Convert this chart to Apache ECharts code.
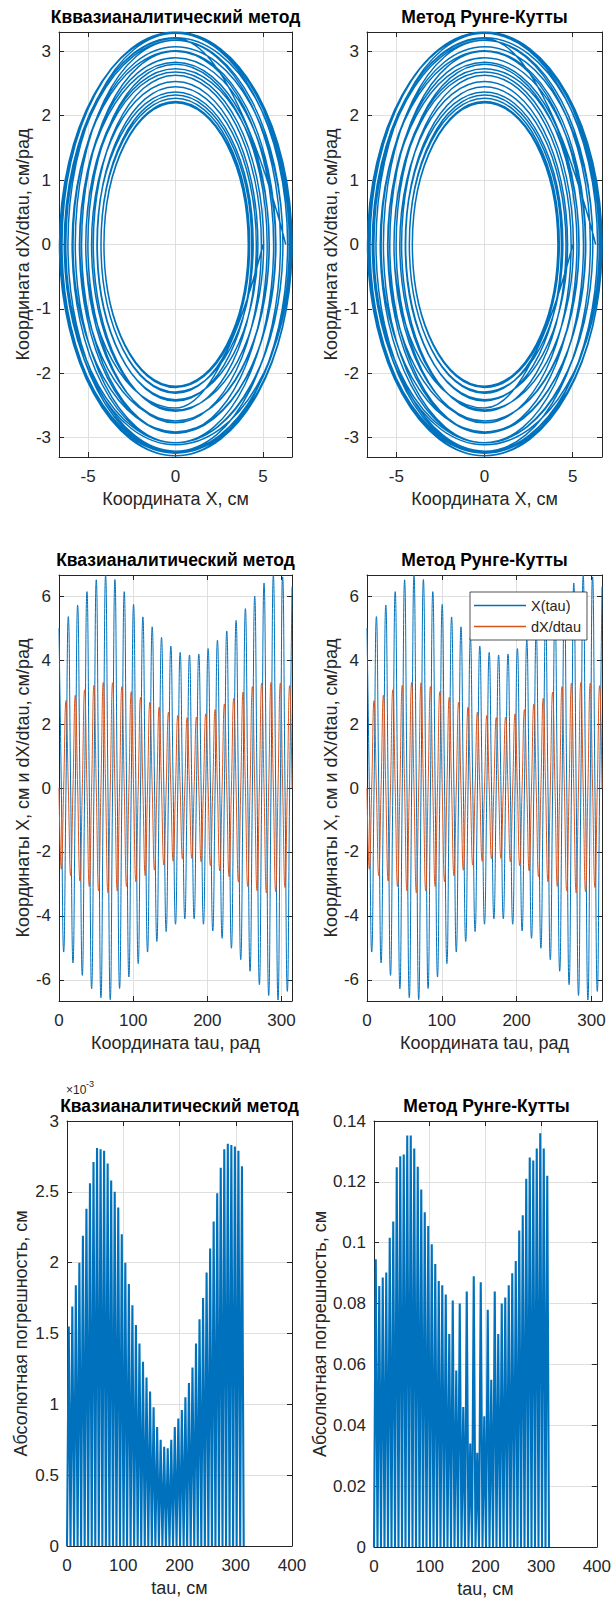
<!DOCTYPE html>
<html>
<head>
<meta charset="utf-8">
<script src="https://cdn.jsdelivr.net/npm/echarts@6/dist/echarts.min.js"></script>
<style>
  html, body { margin: 0; padding: 0; background: #fff; }
  #chart { width: 614px; height: 1602px; }
</style>
</head>
<body>
<div id="chart"></div>
<script>
// ---------------------------------------------------------------------------
// Oscillator solution, tau = 0 .. 100*pi (25 periods of 4*pi).
// The solution is stored as its turning points: consecutive table entries are
// a quarter period apart in tau.
// ---------------------------------------------------------------------------
const QUARTER_PERIOD = 3.14159;

// X(tau) maxima, at tau = 4*pi*k (k = 0..25), cm
const xPeaks = [5.00, 5.36, 5.72, 6.14, 6.51, 6.66, 6.52, 6.14, 5.74, 5.35,
                5.04, 4.71, 4.44, 4.24, 4.16, 4.19, 4.36, 4.62, 4.91, 5.24,
                5.61, 6.00, 6.41, 6.66, 6.60, 6.30];
// X(tau) minima, half a period after each maximum, cm
const xTroughs = [-5.13, -5.47, -5.86, -6.28, -6.56, -6.62, -6.27, -5.91, -5.49, -5.13,
                  -4.80, -4.49, -4.26, -4.09, -4.09, -4.26, -4.47, -4.70, -5.01, -5.37,
                  -5.73, -6.15, -6.49, -6.63, -6.36];
// dX/dtau minima, a quarter period after each X maximum, cm/rad
const dxTroughs = [-2.54, -2.74, -2.91, -3.08, -3.22, -3.28, -3.22, -3.08, -2.93, -2.74,
                   -2.57, -2.41, -2.29, -2.22, -2.20, -2.31, -2.43, -2.59, -2.77, -2.93,
                   -3.08, -3.21, -3.28, -3.24, -3.11];
// dX/dtau maxima, three quarters of a period after each X maximum, cm/rad
const dxPeaks = [2.73, 2.90, 3.07, 3.21, 3.30, 3.29, 3.17, 3.01, 2.83, 2.68,
                 2.53, 2.37, 2.27, 2.20, 2.22, 2.32, 2.45, 2.63, 2.80, 3.00,
                 3.17, 3.28, 3.30, 3.28, 3.20];

// Absolute error of the quasi-analytic solution, one hump per half period (x 1e-3 cm)
const quasiErrPeaks = [1.55, 1.69, 1.84, 2.00, 2.19, 2.38, 2.56, 2.71, 2.81, 2.80,
                       2.79, 2.70, 2.58, 2.50, 2.39, 2.20, 2.00, 1.85, 1.70, 1.56,
                       1.43, 1.30, 1.19, 1.09, 0.98, 0.84, 0.75, 0.70, 0.69, 0.75,
                       0.84, 0.90, 0.96, 1.05, 1.15, 1.26, 1.43, 1.60, 1.75, 1.93,
                       2.10, 2.29, 2.49, 2.67, 2.80, 2.84, 2.83, 2.82, 2.79, 2.68];
// Absolute error of the Runge-Kutta solution, cm: even and odd humps
const rkErrEven = [0.0946, 0.0886, 0.1016, 0.1248, 0.1290, 0.1352, 0.1250, 0.1100, 0.0995, 0.0874,
                   0.0830, 0.0810, 0.0800, 0.0840, 0.0890, 0.0870, 0.0780, 0.0840, 0.0800, 0.0860,
                   0.0940, 0.1090, 0.1280, 0.1310, 0.1310];
const rkErrOdd = [0.0858, 0.0902, 0.1070, 0.1284, 0.1352, 0.1310, 0.1175, 0.1055, 0.0930, 0.0860,
                  0.0700, 0.0580, 0.0460, 0.0340, 0.0310, 0.0430, 0.0550, 0.0700, 0.0820, 0.0900,
                  0.1040, 0.1210, 0.1270, 0.1360, 0.1220];

// Tick labels
const phaseXTicks = [-5, 0, 5];
const phaseYTicks = [-3, -2, -1, 0, 1, 2, 3];
const tauTicks = [0, 100, 200, 300];
const timeYTicks = [-6, -4, -2, 0, 2, 4, 6];
const errTauTicks = [0, 100, 200, 300, 400];
const quasiErrTicks = [0, 0.5, 1, 1.5, 2, 2.5, 3];
const rkErrTicks = [0, 0.02, 0.04, 0.06, 0.08, 0.1, 0.12, 0.14];

// ---------------------------------------------------------------------------
// Build the sampled curves from the turning-point tables
// ---------------------------------------------------------------------------
function buildSolution() {
  const xs = [], dxs = [], phase = [];
  for (let k = 0; k < xPeaks.length; k++) {
    const pts = [[4 * k, xPeaks[k], 0]];
    if (k < xTroughs.length) {
      pts.push([4 * k + 1, 0, dxTroughs[k]]);
      pts.push([4 * k + 2, xTroughs[k], 0]);
      pts.push([4 * k + 3, 0, dxPeaks[k]]);
    }
    pts.forEach(([q, x, dx]) => {
      const tau = q * QUARTER_PERIOD;
      xs.push([tau, x]);
      dxs.push([tau, dx]);
      phase.push([x, dx]);
    });
  }
  return { xs, dxs, phase };
}

function buildError(humps) {
  const out = [[0, 0]];
  humps.forEach((h, j) => {
    out.push([(2 * j + 1) * QUARTER_PERIOD, h]);
    out.push([(2 * j + 2) * QUARTER_PERIOD, 0]);
  });
  return out;
}

const sol = buildSolution();
const rkHumps = [];
rkErrEven.forEach((v, i) => { rkHumps.push(v); if (i < rkErrOdd.length) rkHumps.push(rkErrOdd[i]); });
const quasiErr = buildError(quasiErrPeaks);
const rkErr = buildError(rkHumps.slice(0, 50));

// ---------------------------------------------------------------------------
// Styling and layout
// ---------------------------------------------------------------------------
const FONT = '"Liberation Sans", Arial, Helvetica, sans-serif';
const INK = '#262626';
const GRIDLINE = '#dfdfdf';
const BLUE = '#0072BD';
const ORANGE = '#D95319';

const panels = [
  { grid: { left: 59, top: 32, width: 233, height: 425 }, title: 'Кввазианалитический метод', titleY: 8,
    xName: 'Координата X, см', yName: 'Координата dX/dtau, см/рад', yGap: 27,
    xRange: [-6.66, 6.66], yRange: [-3.3, 3.3], xTicks: phaseXTicks, yTicks: phaseYTicks },
  { grid: { left: 367, top: 32, width: 235, height: 425 }, title: 'Метод Рунге-Кутты', titleY: 8,
    xName: 'Координата X, см', yName: 'Координата dX/dtau, см/рад', yGap: 26,
    xRange: [-6.66, 6.66], yRange: [-3.3, 3.3], xTicks: phaseXTicks, yTicks: phaseYTicks },
  { grid: { left: 59, top: 575, width: 233, height: 426 }, title: 'Квазианалитический метод', titleY: 551,
    xName: 'Координата tau, рад', yName: 'Координаты X, см и dX/dtau, см/рад', yGap: 27,
    xRange: [0, 314.16], yRange: [-6.66, 6.66], xTicks: tauTicks, yTicks: timeYTicks },
  { grid: { left: 367, top: 575, width: 235, height: 426 }, title: 'Метод Рунге-Кутты', titleY: 551,
    xName: 'Координата tau, рад', yName: 'Координаты X, см и dX/dtau, см/рад', yGap: 26,
    xRange: [0, 314.16], yRange: [-6.66, 6.66], xTicks: tauTicks, yTicks: timeYTicks },
  { grid: { left: 67, top: 1121, width: 225, height: 425 }, title: 'Квазианалитический метод', titleY: 1097,
    xName: 'tau, см', yName: 'Абсолютная погрешность, см', yGap: 37,
    xRange: [0, 400], yRange: [0, 3], xTicks: errTauTicks, yTicks: quasiErrTicks },
  { grid: { left: 374, top: 1121, width: 225, height: 426 }, title: 'Метод Рунге-Кутты', titleY: 1097,
    xName: 'tau, см', yName: 'Абсолютная погрешность, см', yGap: 45,
    xRange: [0, 400], yRange: [0, 0.14], xTicks: errTauTicks, yTicks: rkErrTicks }
];

const nameStyle = { color: INK, fontSize: 18, fontFamily: FONT };
const labelStyle = { color: INK, fontSize: 17, fontFamily: FONT };

const grids = [], xAxes = [], yAxes = [], graphics = [];
panels.forEach((p, i) => {
  grids.push(Object.assign({ containLabel: false }, p.grid));
  const baseLine = { show: true, onZero: false, lineStyle: { color: INK, width: 1 } };
  // bottom / left axes with labels and grid lines
  xAxes.push({
    type: 'value', gridIndex: i, position: 'bottom', min: p.xRange[0], max: p.xRange[1],
    axisLine: baseLine,
    axisTick: { show: true, inside: true, length: 5, customValues: p.xTicks, lineStyle: { color: INK } },
    axisLabel: Object.assign({ show: true, margin: 11, customValues: p.xTicks, formatter: v => String(v) }, labelStyle),
    splitLine: { show: true, lineStyle: { color: GRIDLINE, width: 1 } },
    name: p.xName, nameLocation: 'middle', nameGap: 33, nameTextStyle: nameStyle
  });
  yAxes.push({
    type: 'value', gridIndex: i, position: 'left', min: p.yRange[0], max: p.yRange[1],
    axisLine: baseLine,
    axisTick: { show: true, inside: true, length: 5, customValues: p.yTicks, lineStyle: { color: INK } },
    axisLabel: Object.assign({ show: true, margin: 8, customValues: p.yTicks, formatter: v => String(v) }, labelStyle),
    splitLine: { show: true, lineStyle: { color: GRIDLINE, width: 1 } },
    name: p.yName, nameLocation: 'middle', nameGap: p.yGap, nameTextStyle: nameStyle
  });
  // top / right axes closing the box
  xAxes.push({
    type: 'value', gridIndex: i, position: 'top', min: p.xRange[0], max: p.xRange[1],
    axisLine: baseLine,
    axisTick: { show: true, inside: true, length: 5, customValues: p.xTicks, lineStyle: { color: INK } },
    axisLabel: { show: false }, splitLine: { show: false }
  });
  yAxes.push({
    type: 'value', gridIndex: i, position: 'right', min: p.yRange[0], max: p.yRange[1],
    axisLine: baseLine,
    axisTick: { show: true, inside: true, length: 5, customValues: p.yTicks, lineStyle: { color: INK } },
    axisLabel: { show: false }, splitLine: { show: false }
  });
  graphics.push({
    type: 'text', x: p.grid.left + p.grid.width / 2, y: p.titleY, z: 10,
    style: { text: p.title, align: 'center', verticalAlign: 'top',
             font: 'bold 17.5px ' + FONT, fill: '#000' }
  });
});

// exponent of the quasi-analytic error axis
graphics.push({ type: 'text', x: 66, y: 1084, z: 5,
  style: { text: '×10', align: 'left', verticalAlign: 'top', font: '12px ' + FONT, fill: INK } });
graphics.push({ type: 'text', x: 86, y: 1079, z: 5,
  style: { text: '-3', align: 'left', verticalAlign: 'top', font: '9px ' + FONT, fill: INK } });

function line(name, data, axisPair, color, width, smooth) {
  return {
    type: 'line', name, data, xAxisIndex: axisPair * 2, yAxisIndex: axisPair * 2,
    showSymbol: false, symbol: 'none', smooth: smooth, clip: true,
    lineStyle: { color, width }, itemStyle: { color }, emphasis: { disabled: true },
    animation: false
  };
}

const series = [
  line('Фазовый портрет (квазианалит.)', sol.phase, 0, BLUE, 1.5, 0.55),
  line('Фазовый портрет (Рунге-Кутта)', sol.phase, 1, BLUE, 1.5, 0.55),
  line('X (квазианалит.)', sol.xs, 2, BLUE, 1, 0.5),
  line('dX (квазианалит.)', sol.dxs, 2, ORANGE, 1, 0.5),
  line('X(tau)', sol.xs, 3, BLUE, 1, 0.5),
  line('dX/dtau', sol.dxs, 3, ORANGE, 1, 0.5),
  line('Погрешность (квазианалит.)', quasiErr, 4, BLUE, 2.1, false),
  line('Погрешность (Рунге-Кутта)', rkErr, 5, BLUE, 2.1, false)
];

const chart = echarts.init(document.getElementById('chart'), null, { renderer: 'svg', width: 614, height: 1602 });
chart.setOption({
  animation: false,
  backgroundColor: '#fff',
  textStyle: { fontFamily: FONT },
  grid: grids,
  xAxis: xAxes,
  yAxis: yAxes,
  series,
  graphic: graphics,
  legend: {
    data: ['X(tau)', 'dX/dtau'],
    orient: 'vertical', left: 470, top: 592,
    padding: [6, 6, 6, 4], itemGap: 6, itemWidth: 52, itemHeight: 1.5,
    icon: 'rect',
    backgroundColor: '#fff', borderColor: INK, borderWidth: 0.8, borderRadius: 0,
    textStyle: { color: INK, fontSize: 14.5, fontFamily: FONT },
    selectedMode: false
  }
});
</script>
</body>
</html>
